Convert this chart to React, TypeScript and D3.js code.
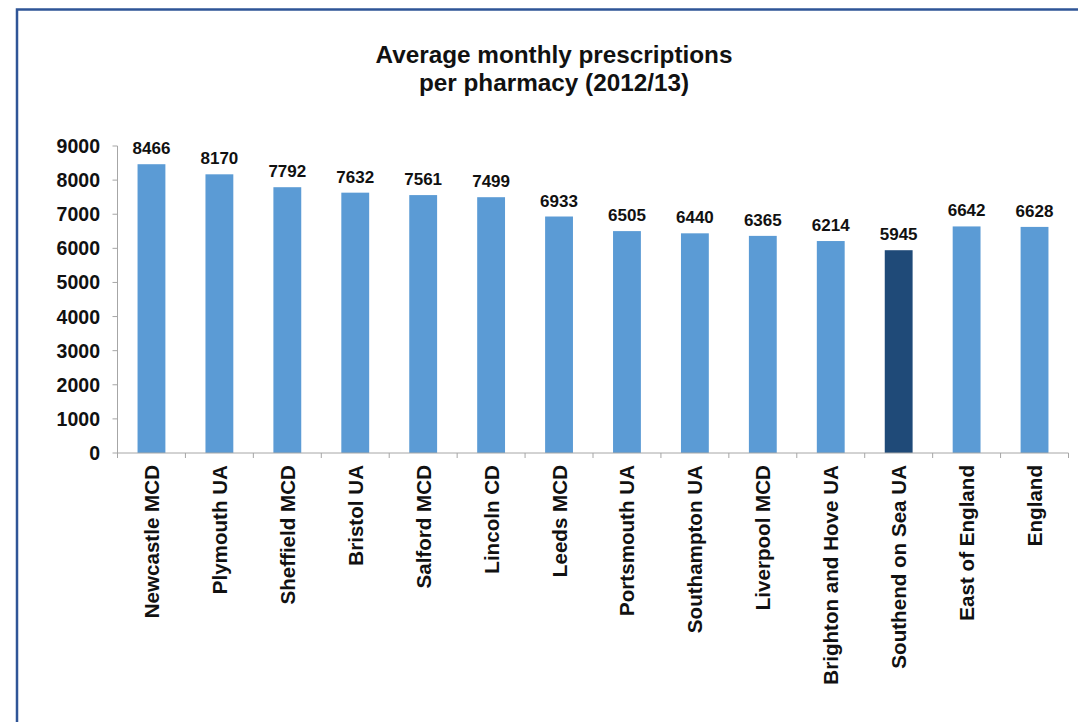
import React from "react";
import * as d3 from "d3";

const categories = [
  "Newcastle MCD",
  "Plymouth UA",
  "Sheffield MCD",
  "Bristol UA",
  "Salford MCD",
  "Lincoln CD",
  "Leeds MCD",
  "Portsmouth UA",
  "Southampton UA",
  "Liverpool MCD",
  "Brighton and Hove UA",
  "Southend on Sea UA",
  "East of England",
  "England",
];
const values = [8466, 8170, 7792, 7632, 7561, 7499, 6933, 6505, 6440, 6365, 6214, 5945, 6642, 6628];
const highlighted = ["Southend on Sea UA"];
const yTicks = [0, 1000, 2000, 3000, 4000, 5000, 6000, 7000, 8000, 9000];
const titleLines = ["Average monthly prescriptions", "per pharmacy (2012/13)"];

const W = 1078;
const H = 722;
const FONT = "'Liberation Sans', Arial, Helvetica, sans-serif";

export default function App() {
  const x = d3.scaleBand<string>().domain(categories).range([117.5, 1068.5]).paddingInner(0.59).paddingOuter(0.295);
  const y = d3.scaleLinear().domain([0, 9000]).range([453, 146]);
  const axisColor = "#a6a6a6";
  const step = x.step();
  const boundaries = d3.range(categories.length + 1).map((i) => 117.5 + i * step);

  return (
    <svg width={W} height={H} style={{ position: "absolute", left: 0, top: 0, background: "#fff" }} fontFamily={FONT}>
      <rect x={0} y={0} width={W} height={H} fill="#fff" />
      <rect x={17} y={9.5} width={W + 20} height={H + 20} fill="none" stroke="#2f5597" strokeWidth={2.5} />
      {titleLines.map((t, i) => (
        <text key={i} x={554} y={63 + i * 27.5} textAnchor="middle" fontSize={24.3} fontWeight="bold" fill="#111">
          {t}
        </text>
      ))}
      {/* y axis */}
      <line x1={117.5} x2={117.5} y1={y(9000)} y2={y(0)} stroke={axisColor} strokeWidth={1} />
      {yTicks.map((t) => (
        <g key={t}>
          <line x1={112.5} x2={117.5} y1={y(t)} y2={y(t)} stroke={axisColor} strokeWidth={1} />
          <text x={100} y={y(t)} dy="0.36em" textAnchor="end" fontSize={19.5} fontWeight="bold" fill="#111">
            {t}
          </text>
        </g>
      ))}
      {/* bars */}
      {categories.map((c, i) => (
        <g key={c}>
          <rect
            x={x(c)}
            y={y(values[i])}
            width={x.bandwidth()}
            height={y(0) - y(values[i])}
            fill={highlighted.includes(c) ? "#1f4a78" : "#5b9bd5"}
          />
          <text
            x={(x(c) as number) + x.bandwidth() / 2}
            y={y(values[i]) - 10}
            textAnchor="middle"
            fontSize={17}
            fontWeight="bold"
            fill="#111"
          >
            {values[i]}
          </text>
          <text
            transform={`translate(${(x(c) as number) + x.bandwidth() / 2 + 7.5},${465}) rotate(-90)`}
            textAnchor="end"
            fontSize={20.6}
            fontWeight="bold"
            fill="#111"
          >
            {c}
          </text>
        </g>
      ))}
      {/* x axis */}
      <line x1={117.5} x2={1068.5} y1={y(0)} y2={y(0)} stroke={axisColor} strokeWidth={1} />
      {boundaries.map((b, i) => (
        <line key={i} x1={b} x2={b} y1={y(0)} y2={y(0) + 5} stroke={axisColor} strokeWidth={1} />
      ))}
    </svg>
  );
}
